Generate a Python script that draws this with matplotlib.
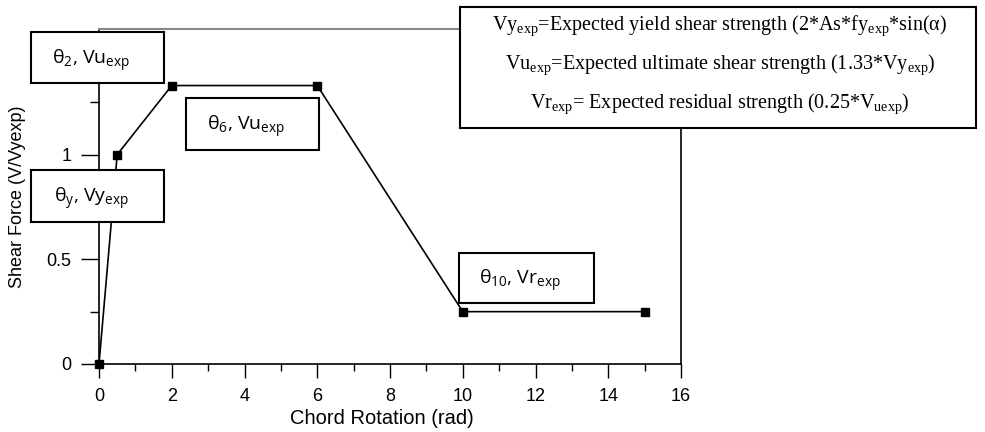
import matplotlib.pyplot as plt
from matplotlib.patches import Rectangle
from matplotlib.ticker import MultipleLocator

# backbone curve points
rotation = [0, 0.5, 2, 6, 10, 15]
shear = [0, 1, 1.33, 1.33, 0.25, 0.25]

x_ticks = [0, 2, 4, 6, 8, 10, 12, 14, 16]
y_ticks = [0, 0.5, 1, 1.5]
y_tick_labels = ['0', '0.5', '1', '']  # 1.5 sits behind the theta_2 box

legend_lines = [
    r'Vy$_{\mathregular{exp}}$=Expected yield shear strength (2*As*fy$_{\mathregular{exp}}$*sin($\mathregular{\alpha}$)',
    r'Vu$_{\mathregular{exp}}$=Expected ultimate shear strength (1.33*Vy$_{\mathregular{exp}}$)',
    r'Vr$_{\mathregular{exp}}$= Expected residual strength (0.25*V$_{\mathregular{uexp}}$)',
]

W, H = 985, 432
fig = plt.figure(figsize=(W / 100, H / 100), dpi=100)
ax = fig.add_axes([99 / W, 1 - 364 / H, (681 - 99) / W, (364 - 29) / H])

ax.plot(rotation, shear, color='black', lw=1.2, marker='s', ms=6, zorder=3, clip_on=False)

ax.set_xlim(0, 16)
ax.set_ylim(0, 1.6)
ax.set_xticks(x_ticks)
ax.set_yticks(y_ticks)
ax.set_yticklabels(y_tick_labels)
ax.xaxis.set_minor_locator(MultipleLocator(1))
ax.yaxis.set_minor_locator(MultipleLocator(0.25))
ax.tick_params(axis='x', which='major', length=10, width=1, labelsize=13, pad=7)
ax.tick_params(axis='x', which='minor', length=5, width=1)
ax.tick_params(axis='y', which='major', length=13, width=1, labelsize=13, pad=7)
ax.tick_params(axis='y', which='minor', length=6.5, width=1)
for lab in ax.get_xticklabels() + ax.get_yticklabels():
    lab.set_family('Liberation Sans')
ax.spines['top'].set_color('#888888')
ax.spines['top'].set_linewidth(1.5)
for s in ['left', 'bottom', 'right']:
    ax.spines[s].set_linewidth(1.2)

ax.set_xlabel('Chord Rotation (rad)', family='Liberation Sans', fontsize=14.5)
ax.xaxis.set_label_coords((382 - 99) / 582, -(409 - 364) / 335)
ax.set_ylabel('Shear Force (V/Vyexp)', family='Liberation Sans', fontsize=13)
ax.yaxis.set_label_coords(-(99 - 26) / 582, 0.5)


def box(x0, y0, x1, y1):
    r = Rectangle((x0 / W, 1 - y1 / H), (x1 - x0) / W, (y1 - y0) / H,
                  transform=fig.transFigure, facecolor='white', edgecolor='black',
                  lw=1.5, zorder=10)
    fig.patches.append(r)


def label_box(x0, y0, x1, y1, txt):
    box(x0, y0, x1, y1)
    fig.text(((x0 + x1) / 2 - 6) / W, 1 - ((y0 + y1) / 2 + 3) / H, txt, ha='center', va='center',
             family='Open Sans', fontsize=14, zorder=11)


label_box(31, 32, 164, 83, r'$\mathregular{\theta_2}$, Vu$_{\mathregular{exp}}$')
label_box(31, 170, 164, 222, r'$\mathregular{\theta_y}$, Vy$_{\mathregular{exp}}$')
label_box(186, 98, 319, 150, r'$\mathregular{\theta_6}$, Vu$_{\mathregular{exp}}$')
label_box(459, 253, 594, 303, r'$\mathregular{\theta_{10}}$, Vr$_{\mathregular{exp}}$')

box(460, 7, 976, 128)
for i, line in enumerate(legend_lines):
    fig.text(720 / W, 1 - (26 + i * 39) / H, line, ha='center', va='center',
             family='Liberation Serif', fontsize=14.5, zorder=11)

fig.savefig('out.png', dpi=100)
